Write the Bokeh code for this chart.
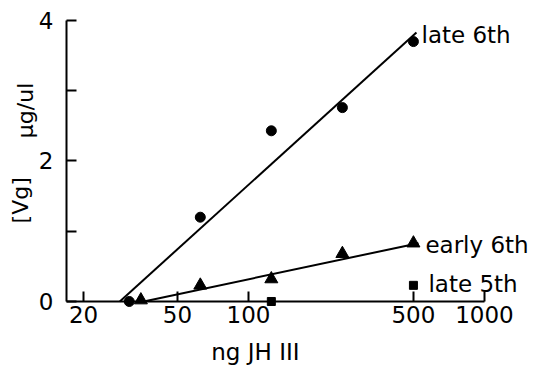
from bokeh.plotting import figure
from bokeh.models import Range1d, FixedTicker, Label
from bokeh.embed import file_html
from bokeh.resources import INLINE

# ---- data ----
dose_late6 = [31.25, 62.5, 125, 250, 500]
vg_late6 = [0.0, 1.2, 2.43, 2.76, 3.70]
dose_early6 = [35, 62.5, 125, 250, 500]
vg_early6 = [0.02, 0.23, 0.32, 0.68, 0.83]
dose_late5 = [125, 500]
vg_late5 = [0.0, 0.23]
fit_late6_x = [28.5, 515]
fit_late6_y = [0.0, 3.83]
fit_early6_x = [36, 525]
fit_early6_y = [0.0, 0.83]
x_ticks = [20, 50, 100, 500, 1000]
x_labels = ["20", "50", "100", "500", "1000"]
y_ticks = [0, 2, 4]
y_minor = [1, 3]
series_names = ["late 6th", "early 6th", "late 5th"]

FONT = "DejaVu Sans"
FS = "23px"

p = figure(width=542, height=366, x_axis_type="log",
           x_range=Range1d(8.897, 1761.6), y_range=Range1d(-0.9253, 4.2847),
           output_backend="svg", toolbar_location=None,
           min_border_left=0, min_border_right=0,
           min_border_top=0, min_border_bottom=0)
p.outline_line_color = None
p.grid.visible = False
p.background_fill_color = "white"
p.border_fill_color = "white"

xa = p.xaxis[0]
xa.ticker = FixedTicker(ticks=x_ticks, minor_ticks=[])
xa.major_label_overrides = {t: l for t, l in zip(x_ticks, x_labels)}
xa.fixed_location = 0
xa.bounds = (16.94, 1000)

ya = p.yaxis[0]
ya.ticker = FixedTicker(ticks=y_ticks, minor_ticks=y_minor)
ya.fixed_location = 16.94
ya.bounds = (0, 4)

for ax in (xa, ya):
    ax.axis_line_width = 2
    ax.axis_line_color = "black"
    ax.major_tick_in = 10
    ax.major_tick_out = 0
    ax.minor_tick_in = 10
    ax.minor_tick_out = 0
    ax.major_tick_line_width = 2
    ax.minor_tick_line_width = 2
    ax.major_tick_line_color = "black"
    ax.minor_tick_line_color = "black"
    ax.major_label_text_font = FONT
    ax.major_label_text_font_size = FS
    ax.major_label_text_color = "black"
xa.major_label_standoff = 5
ya.major_label_standoff = 13

# fitted lines
p.line(fit_late6_x, fit_late6_y, line_width=2, line_color="black")
p.line(fit_early6_x, fit_early6_y, line_width=2, line_color="black")

# data points
p.scatter(dose_late6, vg_late6, marker="circle", size=10, color="black")
p.scatter(dose_early6, vg_early6, marker="triangle", size=13, color="black")
p.scatter(dose_late5, vg_late5, marker="square", size=8, color="black")

# series labels
for txt, x, y in zip(series_names, [541, 562, 579], [3.79, 0.81, 0.256]):
    p.add_layout(Label(x=x, y=y, text=txt, text_font=FONT, text_font_size=FS,
                       text_color="black", text_baseline="middle", text_align="left"))

# axis titles
p.add_layout(Label(x=107, y=-0.72, text="ng JH III", text_font=FONT,
                   text_font_size=FS, text_color="black",
                   text_baseline="middle", text_align="center"))
p.add_layout(Label(x=10.8, y=1.44, text="[Vg]", text_font=FONT, angle=1.5708,
                   text_font_size="22px", text_color="black",
                   text_baseline="middle", text_align="center"))
p.add_layout(Label(x=11.3, y=2.72, text="µg/ul", text_font=FONT, angle=1.5708,
                   text_font_size="22px", text_color="black",
                   text_baseline="middle", text_align="center"))

open("out.html", "w").write(file_html(p, INLINE))
